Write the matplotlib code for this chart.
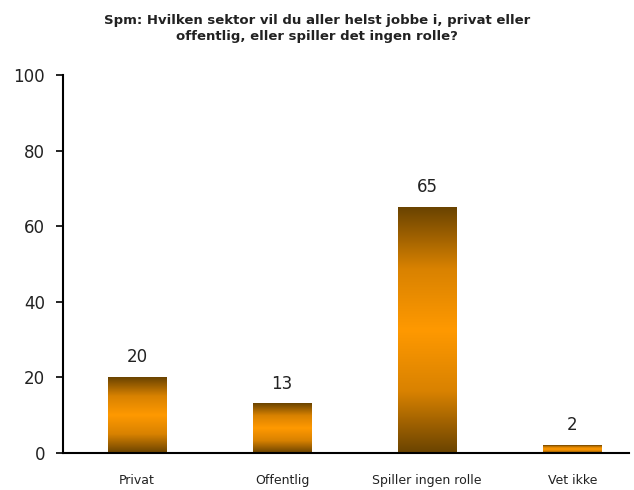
import matplotlib
matplotlib.use("Agg")
import matplotlib.pyplot as plt
import numpy as np
from matplotlib.colors import LinearSegmentedColormap

categories = ["Privat", "Offentlig", "Spiller ingen rolle", "Vet ikke"]
values = [20, 13, 65, 2]
yticks = [0, 20, 40, 60, 80, 100]
title = "Spm: Hvilken sektor vil du aller helst jobbe i, privat eller\noffentlig, eller spiller det ingen rolle?"

fig = plt.figure(figsize=(6.34, 4.90), dpi=100)
ax = fig.add_axes([0.0994, 0.0755, 0.8926, 0.7715])

cmap = LinearSegmentedColormap.from_list("g", ["#6a4300", "#d98200", "#ff9900", "#d98200", "#6a4300"])
grad = np.linspace(0, 1, 256).reshape(-1, 1)

x = np.arange(len(categories))
width = 0.4
bars = ax.bar(x, values, width=width, color="none", edgecolor="none")
for b, v in zip(bars, values):
    x0, y0 = b.get_x(), b.get_y()
    w, h = b.get_width(), b.get_height()
    ax.imshow(grad, cmap=cmap, aspect="auto", extent=[x0, x0 + w, y0, y0 + h],
              origin="lower", zorder=2)
    ax.text(x0 + w / 2, v + 3, str(v), ha="center", va="bottom", fontsize=12, color="#222222")

ax.set_xlim(-0.51, 3.39)
ax.set_ylim(0, 100)
ax.set_yticks(yticks)
ax.set_yticklabels([str(t) for t in yticks], fontsize=12, color="#222222")
ax.set_xticks(x)
ax.set_xticklabels(categories, fontsize=9, color="#222222")
ax.tick_params(axis="x", length=0, pad=15)
ax.tick_params(axis="y", length=5, width=1.2, pad=8, direction="out")
for s in ["top", "right"]:
    ax.spines[s].set_visible(False)
ax.spines["left"].set_linewidth(1.5)
ax.spines["bottom"].set_linewidth(1.5)
ax.spines["bottom"].set_zorder(3)

fig.text(0.5, 0.972, title, ha="center", va="top", fontsize=9.5, fontweight="bold",
         color="#222222", linespacing=1.3)

fig.savefig("out.png", dpi=100)
